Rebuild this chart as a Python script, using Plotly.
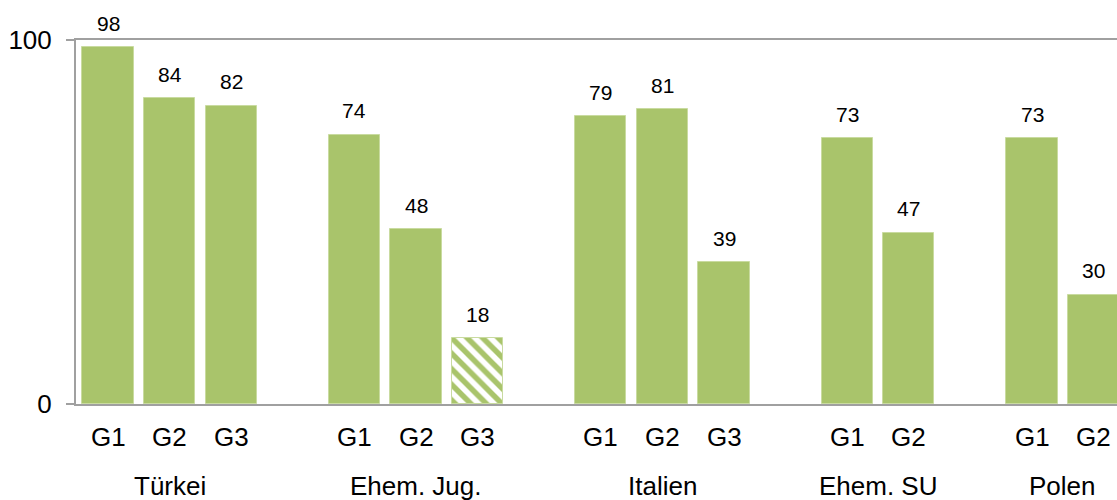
import plotly.graph_objects as go

# Share per origin group and generation
groups = ["Türkei", "Ehem. Jug.", "Italien", "Ehem. SU", "Polen"]
generations = [["G1", "G2", "G3"], ["G1", "G2", "G3"], ["G1", "G2", "G3"], ["G1", "G2"], ["G1", "G2"]]
values = [[98, 84, 82], [74, 48, 18], [79, 81, 39], [73, 47], [73, 30]]
# bars drawn hatched (low case numbers)
hatched = [[False, False, False], [False, False, True], [False, False, False], [False, False], [False, False]]

GREEN = "#a9c46b"
GRID = "#a0a0a0"
FONT = "Liberation Sans, Arial, sans-serif"

# lay the bars out slot by slot, with one empty slot between groups
xs, ys, labels, shapes, group_centers = [], [], [], [], []
slot = 0
for gen, vals, hat in zip(generations, values, hatched):
    start = slot
    for g, v, h in zip(gen, vals, hat):
        xs.append(slot)
        ys.append(v)
        labels.append(g)
        shapes.append("\\" if h else "")
        slot += 1
    group_centers.append((start + slot - 1) / 2)
    slot += 1

fig = go.Figure(go.Bar(
    x=xs, y=ys, width=0.83,
    marker=dict(
        color=GREEN,
        line=dict(color="#c9dba0", width=1),
        pattern=dict(shape=shapes, fgcolor=GREEN, bgcolor="white",
                     size=11, solidity=0.5, fillmode="replace"),
    ),
    hoverinfo="skip",
))

annotations = []
for x, y in zip(xs, ys):
    annotations.append(dict(x=x, y=y, xref="x", yref="y", text=str(y), showarrow=False,
                            yanchor="middle", yshift=24, font=dict(size=21, color="#000", family=FONT)))
for x, lab in zip(xs, labels):
    annotations.append(dict(x=x, y=-0.09, xref="x", yref="paper", text=lab, showarrow=False,
                            yanchor="middle", font=dict(size=26, color="#000", family=FONT)))
for x, name in zip(group_centers, groups):
    annotations.append(dict(x=x, y=-0.225, xref="x", yref="paper", text=name, showarrow=False,
                            yanchor="middle", font=dict(size=26, color="#000", family=FONT)))

fig.update_layout(
    width=1117, height=500,
    margin=dict(l=76, r=0, t=40, b=96),
    plot_bgcolor="white", paper_bgcolor="white",
    showlegend=False,
    bargap=0,
    annotations=annotations,
    # bottom and top frame lines mark the 0 and 100 levels
    xaxis=dict(range=[-0.52, 16.38], showticklabels=False, showgrid=False,
               zeroline=False, showline=True, mirror=True, linecolor=GRID, linewidth=2, ticks=""),
    yaxis=dict(range=[0, 100], tickvals=[0, 100], showgrid=False,
               zeroline=False, showline=True, linecolor=GRID, linewidth=2,
               ticks="outside", ticklen=8, tickwidth=2, tickcolor=GRID,
               ticklabelstandoff=9,
               tickfont=dict(size=26, color="#000", family=FONT)),
)

fig.write_html("out.html")
